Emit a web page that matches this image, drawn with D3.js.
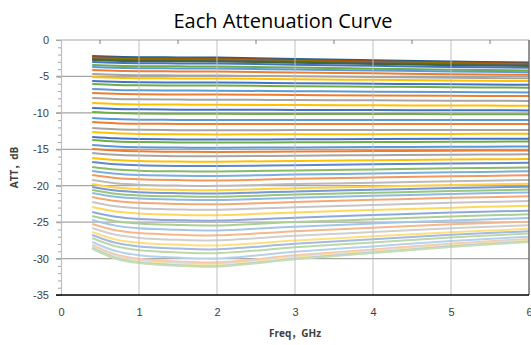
<!DOCTYPE html>
<html>
<head>
<meta charset="utf-8">
<script src="https://cdn.jsdelivr.net/npm/d3@7"></script>
<style>
  html, body { margin: 0; padding: 0; background: #fff; }
  svg { display: block; font-family: "Open Sans", "Noto Sans CJK SC", sans-serif; }
</style>
</head>
<body>
<div id="chart"></div>
<script>
const freqGHz = [0.4, 0.7, 1, 1.5, 2, 3, 4, 5, 6];

// attenuation curves, dB, one row per state top to bottom
const curvesTop = [
  [-2.20, -2.31, -2.36, -2.39, -2.40, -2.61, -2.79, -2.96, -3.10],
  [-2.33, -2.44, -2.49, -2.52, -2.53, -2.74, -2.91, -3.08, -3.21],
  [-2.47, -2.58, -2.63, -2.66, -2.67, -2.87, -3.04, -3.20, -3.34],
  [-2.61, -2.72, -2.77, -2.80, -2.81, -3.00, -3.17, -3.33, -3.46],
  [-2.74, -2.85, -2.90, -2.93, -2.94, -3.13, -3.29, -3.45, -3.57],
  [-3.02, -3.13, -3.18, -3.21, -3.22, -3.40, -3.55, -3.70, -3.82],
  [-3.43, -3.54, -3.59, -3.62, -3.63, -3.79, -3.93, -4.07, -4.18],
  [-3.71, -3.82, -3.87, -3.90, -3.91, -4.06, -4.19, -4.32, -4.42],
  [-4.12, -4.23, -4.28, -4.31, -4.32, -4.46, -4.57, -4.69, -4.78],
  [-4.67, -4.78, -4.83, -4.86, -4.87, -4.99, -5.09, -5.18, -5.26],
  [-5.08, -5.19, -5.24, -5.27, -5.28, -5.38, -5.47, -5.56, -5.63],
  [-5.63, -5.74, -5.79, -5.83, -5.84, -5.93, -6.01, -6.09, -6.15],
  [-6.04, -6.16, -6.21, -6.24, -6.25, -6.34, -6.41, -6.48, -6.54],
  [-6.73, -6.85, -6.90, -6.94, -6.95, -7.02, -7.09, -7.15, -7.20],
  [-7.27, -7.39, -7.45, -7.48, -7.49, -7.55, -7.61, -7.66, -7.70],
  [-7.96, -8.09, -8.14, -8.18, -8.19, -8.24, -8.28, -8.33, -8.36],
  [-8.65, -8.78, -8.84, -8.87, -8.89, -8.93, -8.96, -8.99, -9.02],
  [-9.33, -9.46, -9.52, -9.56, -9.57, -9.60, -9.62, -9.64, -9.66],
  [-9.88, -10.02, -10.08, -10.12, -10.13, -10.15, -10.16, -10.18, -10.19]
];
const curvesMid = [
  [-10.71, -10.86, -10.93, -10.97, -10.98, -10.98, -10.99, -10.99, -10.99],
  [-11.25, -11.41, -11.48, -11.52, -11.54, -11.54, -11.53, -11.53, -11.53],
  [-12.08, -12.25, -12.33, -12.38, -12.39, -12.37, -12.36, -12.35, -12.34],
  [-12.63, -12.81, -12.89, -12.94, -12.96, -12.94, -12.92, -12.89, -12.88],
  [-13.31, -13.50, -13.59, -13.64, -13.66, -13.63, -13.60, -13.57, -13.54],
  [-13.72, -13.92, -14.01, -14.06, -14.08, -14.04, -14.01, -13.97, -13.94],
  [-14.41, -14.62, -14.72, -14.77, -14.79, -14.74, -14.70, -14.65, -14.62],
  [-14.96, -15.18, -15.28, -15.34, -15.36, -15.30, -15.25, -15.20, -15.16],
  [-15.51, -15.76, -15.87, -15.94, -15.96, -15.88, -15.81, -15.74, -15.69],
  [-16.20, -16.48, -16.61, -16.69, -16.71, -16.60, -16.51, -16.41, -16.34],
  [-16.74, -17.05, -17.19, -17.28, -17.31, -17.18, -17.06, -16.95, -16.86],
  [-17.43, -17.78, -17.93, -18.03, -18.06, -17.90, -17.76, -17.62, -17.51],
  [-17.98, -18.36, -18.53, -18.63, -18.66, -18.47, -18.32, -18.16, -18.03],
  [-18.53, -18.93, -19.12, -19.23, -19.27, -19.06, -18.88, -18.71, -18.57],
  [-19.22, -19.66, -19.86, -19.98, -20.02, -19.78, -19.58, -19.38, -19.22],
  [-19.76, -20.23, -20.44, -20.57, -20.61, -20.35, -20.13, -19.91, -19.74],
  [-20.18, -20.67, -20.89, -21.02, -21.07, -20.79, -20.56, -20.33, -20.14]
];
const curvesLow = [
  [-20.59, -21.10, -21.33, -21.46, -21.51, -21.22, -20.97, -20.73, -20.53],
  [-21.00, -21.53, -21.77, -21.91, -21.96, -21.65, -21.39, -21.13, -20.92],
  [-21.55, -22.10, -22.35, -22.50, -22.55, -22.22, -21.94, -21.66, -21.45],
  [-22.24, -22.83, -23.09, -23.25, -23.30, -22.94, -22.64, -22.34, -22.11],
  [-22.92, -23.54, -23.82, -23.99, -24.04, -23.66, -23.33, -23.01, -22.76],
  [-23.61, -24.26, -24.56, -24.73, -24.79, -24.38, -24.03, -23.69, -23.42],
  [-24.16, -24.87, -25.19, -25.39, -25.45, -24.99, -24.61, -24.23, -23.93],
  [-24.70, -25.48, -25.84, -26.05, -26.13, -25.62, -25.19, -24.77, -24.43],
  [-25.25, -26.11, -26.50, -26.73, -26.81, -26.25, -25.77, -25.30, -24.93],
  [-25.80, -26.74, -27.16, -27.42, -27.50, -26.88, -26.36, -25.85, -25.43],
  [-26.35, -27.37, -27.83, -28.10, -28.20, -27.52, -26.95, -26.38, -25.92],
  [-26.76, -27.84, -28.34, -28.63, -28.73, -27.98, -27.36, -26.74, -26.24],
  [-27.17, -28.32, -28.85, -29.16, -29.27, -28.46, -27.78, -27.10, -26.56],
  [-27.72, -28.96, -29.53, -29.87, -29.98, -29.08, -28.33, -27.59, -26.99],
  [-28.13, -29.44, -30.04, -30.40, -30.52, -29.56, -28.76, -27.95, -27.31],
  [-28.30, -29.62, -30.24, -30.60, -30.72, -29.75, -28.93, -28.10, -27.45],
  [-28.45, -29.80, -30.40, -30.78, -30.90, -29.90, -29.05, -28.22, -27.55],
  [-28.54, -29.92, -30.54, -30.92, -31.04, -30.02, -29.17, -28.32, -27.64],
  [-28.65, -30.02, -30.62, -31.00, -31.10, -30.10, -29.25, -28.40, -27.72]
];

const xTicks = [0, 1, 2, 3, 4, 5, 6];
const yTicks = [0, -5, -10, -15, -20, -25, -30, -35];
const topColors = ["#255E91", "#9E480E", "#997300", "#636363", "#43682B"];
const cycleColors = ["#4472C4", "#70AD47", "#5B9BD5", "#ED7D31", "#A5A5A5", "#FFC000"];

const width = 531, height = 345;
const margin = { top: 40, right: 2, bottom: 50, left: 61 };

const curves = curvesTop.concat(curvesMid, curvesLow);

const svg = d3.select("#chart").append("svg")
  .attr("width", width)
  .attr("height", height);

const x = d3.scaleLinear().domain([0, 6]).range([margin.left, width - margin.right]);
const y = d3.scaleLinear().domain([-35, 0]).range([height - margin.bottom, margin.top]);

// horizontal grid
svg.append("g")
  .selectAll("line")
  .data(yTicks.filter(d => d !== 0 && d !== -35))
  .enter()
  .append("line")
  .attr("x1", x(0) - 5).attr("x2", x(6))
  .attr("y1", d => y(d)).attr("y2", d => y(d))
  .attr("stroke", "#a6a6a6")
  .attr("stroke-width", 1.2);

function lineColor(i) {
  if (i < topColors.length) return topColors[i];
  const base = cycleColors[(i - topColors.length) % cycleColors.length];
  const t = i < 29 ? 0 : Math.min(0.6, 0.15 + (i - 29) * 0.02);
  return d3.interpolateRgb(base, "#ffffff")(t);
}

const line = d3.line()
  .x((d, i) => x(freqGHz[i]))
  .y(d => y(d))
  .curve(d3.curveCatmullRom.alpha(0.5));

svg.append("g")
  .selectAll("path")
  .data(curves)
  .enter()
  .append("path")
  .attr("d", line)
  .attr("fill", "none")
  .attr("stroke", (d, i) => lineColor(i))
  .attr("stroke-width", 2);

// vertical grid, over the curves
svg.append("g")
  .selectAll("line")
  .data(xTicks.filter(d => d !== 0 && d !== 6))
  .enter()
  .append("line")
  .attr("x1", d => x(d)).attr("x2", d => x(d))
  .attr("y1", y(0)).attr("y2", y(-35))
  .attr("stroke", "#bfbfbf")
  .attr("stroke-opacity", 0.75)
  .attr("stroke-width", 1.3);

// top border with half-step ticks
svg.append("line")
  .attr("x1", x(0) - 5).attr("x2", x(6))
  .attr("y1", y(0)).attr("y2", y(0))
  .attr("stroke", "#a6a6a6").attr("stroke-width", 1.2);
svg.append("g")
  .selectAll("line")
  .data([0.5, 1.5, 2.5, 3.5, 4.5, 5.5])
  .enter()
  .append("line")
  .attr("x1", d => x(d)).attr("x2", d => x(d))
  .attr("y1", y(0)).attr("y2", y(0) + 4)
  .attr("stroke", "#7f7f7f");

// right border
svg.append("line")
  .attr("x1", x(6)).attr("x2", x(6))
  .attr("y1", y(0)).attr("y2", y(-35))
  .attr("stroke", "#595959").attr("stroke-width", 1.3);

// left axis: minor ticks, then labels
svg.append("g")
  .attr("transform", `translate(${x(0)},0)`)
  .call(d3.axisLeft(y).tickValues(d3.range(-35, 1, 1)).tickSize(3).tickFormat(""))
  .call(g => g.select(".domain").attr("stroke", "#bfbfbf").attr("stroke-width", 1.2))
  .call(g => g.selectAll(".tick line").attr("stroke", "#a6a6a6"));

svg.append("g")
  .attr("transform", `translate(${x(0)},0)`)
  .call(d3.axisLeft(y).tickValues(yTicks).tickSize(5).tickPadding(7).tickFormat(d => String(d)))
  .call(g => g.select(".domain").remove())
  .call(g => g.selectAll(".tick line").attr("stroke", "#a6a6a6"))
  .call(g => g.selectAll(".tick text")
    .attr("fill", "#404040")
    .style("font-size", "11px"));

// bottom axis
svg.append("g")
  .attr("transform", `translate(0,${y(-35)})`)
  .call(d3.axisBottom(x).tickValues(xTicks).tickSize(0).tickPadding(13).tickFormat(d => String(d)))
  .call(g => g.select(".domain").remove())
  .call(g => g.selectAll(".tick text")
    .attr("fill", "#404040")
    .style("font-size", "11px"));
svg.append("line")
  .attr("x1", x(0) - 5).attr("x2", x(6))
  .attr("y1", y(-35)).attr("y2", y(-35))
  .attr("stroke", "#000").attr("stroke-width", 1.3);

// titles
svg.append("text")
  .attr("x", 283).attr("y", 28)
  .attr("text-anchor", "middle")
  .style("font-size", "20px")
  .attr("fill", "#000")
  .text("Each Attenuation Curve");

svg.append("text")
  .attr("x", (x(0) + x(6)) / 2).attr("y", 337)
  .attr("text-anchor", "middle")
  .style("font-size", "10px")
  .style("font-weight", "bold")
  .attr("fill", "#404040")
  .text("Freq，GHz");

svg.append("text")
  .attr("transform", `translate(18,${(y(0) + y(-35)) / 2}) rotate(-90)`)
  .attr("text-anchor", "middle")
  .style("font-size", "10px")
  .style("font-weight", "bold")
  .attr("fill", "#404040")
  .text("ATT，dB");
</script>
</body>
</html>
